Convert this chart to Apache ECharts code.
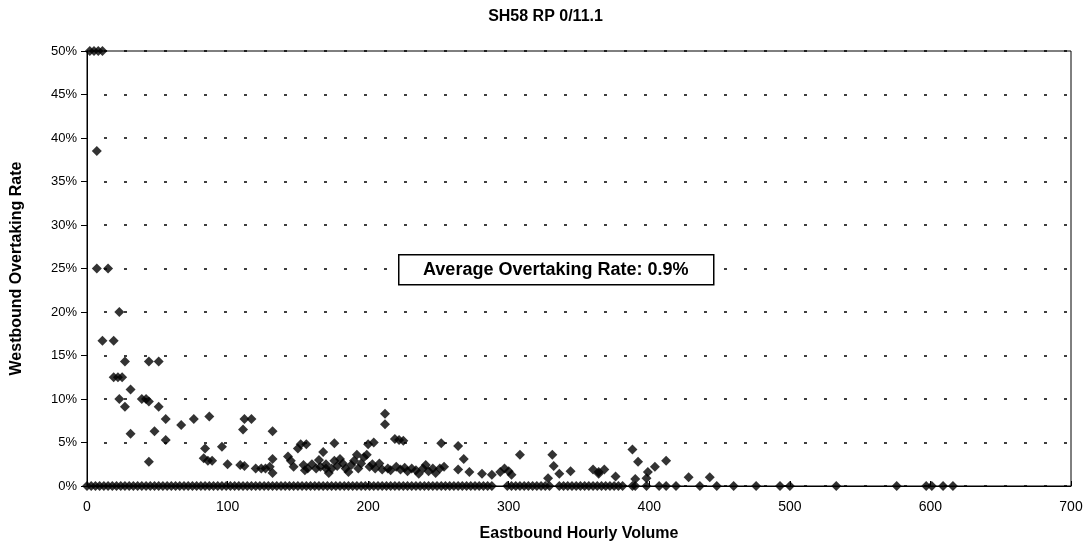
<!DOCTYPE html>
<html>
<head>
<meta charset="utf-8">
<script src="https://cdn.jsdelivr.net/npm/echarts@6/dist/echarts.min.js"></script>
<style>
  html, body { margin: 0; padding: 0; background: #fff; }
  #chart { width: 1091px; height: 548px; }
</style>
</head>
<body>
<div id="chart"></div>
<script>
// eastbound hourly volume / westbound overtaking rate (%) for the non-zero points
const volume = [
  2, 5, 8, 11, 7, 7, 15, 23, 11, 19, 27, 44, 51, 19, 22, 25, 31,
  23, 27, 39, 42, 44, 51, 56, 31, 48, 56, 44, 67, 76, 87, 84, 83, 86, 89,
  96, 100, 109, 112, 112, 117, 111, 120, 124, 127, 132, 132, 132, 130,
  143, 145, 147, 152, 156, 150, 154, 157, 155, 168, 170, 172,
  212, 212, 219, 222, 225, 176, 200, 204, 199, 192, 252, 264, 268, 308,
  160, 163, 165, 166, 170, 174, 176, 178, 180, 182, 184, 186, 188, 190,
  193, 195, 197, 201, 203, 205, 208, 210, 214, 216, 220, 223, 226, 228,
  231, 234, 236, 239, 241, 243, 246, 248, 251, 254,
  264, 272, 281, 288, 294, 297, 300, 302, 328,
  331, 332, 336, 344, 360, 364, 368, 364, 376, 388, 392, 390, 399, 398,
  404, 412, 428, 443
]
const rate = [
  50, 50, 50, 50, 38.5, 25, 25, 20, 16.7, 16.7, 14.3, 14.3, 14.3, 12.5, 12.5, 12.5, 11.1,
  10, 9.1, 10, 10, 9.7, 9.1, 7.7, 6, 6.3, 5.3, 2.8, 7, 7.7, 8, 4.3, 3.2, 2.9, 2.9,
  4.5, 2.5, 2.4, 2.3, 7.7, 7.7, 6.5, 2, 2, 2, 1.5, 6.3, 3.1, 2.2,
  3.4, 2.9, 2.2, 4.8, 4.8, 4.3, 2.4, 2, 1.8, 3.9, 2, 1.5,
  8.3, 7.1, 5.4, 5.3, 5.2, 4.9, 4.8, 5, 3.6, 3.6, 4.9, 4.6, 3.1, 3.6,
  2.5, 2, 3, 2.2, 2.5, 2, 2.9, 2.3, 3.1, 2.6, 2, 1.6, 2.4, 2.9,
  2, 2.6, 3.3, 2.2, 2.5, 2, 2.6, 1.9, 2, 1.8, 2.2, 1.9, 2.1, 1.7,
  2, 1.8, 1.4, 2, 2.4, 1.7, 2, 1.5, 2, 2.2,
  1.9, 1.6, 1.4, 1.3, 1.6, 2, 1.7, 1.3, 0.9,
  3.6, 2.3, 1.4, 1.7, 1.9, 1.6, 1.9, 1.4, 1.1, 4.2, 2.8, 0.8, 1.6, 0.9,
  2.2, 2.9, 1, 1
]
// hours with no overtaking (rate 0%)
const zeroVolume = [
  0, 3, 6, 9, 12, 15, 18, 21, 24, 27, 30, 33, 36, 39, 42, 45, 48, 51, 54, 57,
  60, 63, 66, 69, 72, 75, 78, 81, 84, 87, 90, 93, 96, 99, 102, 105, 108, 111, 114, 117,
  120, 123, 126, 129, 132, 135, 138, 141, 144, 147, 150, 153, 156, 159, 162, 165, 168, 171, 174, 177,
  180, 183, 186, 189, 192, 195, 198, 201, 204, 207, 210, 213, 216, 219, 222, 225, 228, 231, 234, 237,
  240, 243, 246, 249, 252, 255, 258, 261, 264, 267, 270, 273, 276, 279, 282, 285, 288,
  299, 302, 305, 308, 311, 314, 317, 320, 323, 326, 329,
  336, 339, 342, 345, 348, 351, 354, 357, 360, 363, 366, 369, 372, 375, 378, 381,
  388, 390, 398, 407, 412, 419, 436, 448, 460, 476, 493, 500, 533, 576, 597, 601, 609, 616
]
const averageRate = 0.9

const points = volume.map((v, i) => [v, rate[i]])
zeroVolume.forEach(v => points.push([v, 0]))

const font = 'Liberation Sans, Arial, sans-serif'
const myChart = echarts.init(document.getElementById('chart'))
const option = {
  animation: false,
  backgroundColor: '#fff',
  title: {
    text: 'SH58 RP 0/11.1',
    left: 'center',
    top: 4,
    textStyle: { fontFamily: font, fontSize: 16, fontWeight: 'bold', color: '#000' }
  },
  grid: {
    left: 87,
    right: 20,
    top: 51,
    bottom: 62,
    show: true,
    borderColor: '#000',
    borderWidth: 1
  },
  xAxis: {
    type: 'value',
    min: 0,
    max: 700,
    interval: 100,
    name: 'Eastbound Hourly Volume',
    nameLocation: 'middle',
    nameGap: 40,
    nameTextStyle: { fontFamily: font, fontSize: 16, fontWeight: 'bold', color: '#000' },
    axisLine: { show: true, lineStyle: { color: '#000', width: 1 } },
    axisTick: { show: true, inside: true, length: 5, lineStyle: { color: '#000' } },
    axisLabel: { fontFamily: font, fontSize: 14, color: '#000', margin: 14 },
    splitLine: { show: false }
  },
  yAxis: {
    type: 'value',
    min: 0,
    max: 50,
    interval: 5,
    name: 'Westbound Overtaking Rate',
    nameLocation: 'middle',
    nameGap: 62,
    nameTextStyle: { fontFamily: font, fontSize: 16, fontWeight: 'bold', color: '#000' },
    axisLine: { show: true, lineStyle: { color: '#000', width: 1 } },
    axisTick: { show: true, length: 6, lineStyle: { color: '#000' } },
    axisLabel: { fontFamily: font, fontSize: 13, color: '#000', formatter: '{value}%', margin: 10 },
    splitLine: { show: true, lineStyle: { color: '#000', width: 1.5, type: [3, 17], dashOffset: -17 } }
  },
  graphic: [
    {
      type: 'group',
      left: 398,
      top: 254,
      z: 100,
      children: [
        {
          type: 'rect',
          z: 100,
          shape: { x: 0, y: 0, width: 315, height: 30 },
          style: { fill: '#fff', stroke: '#000', lineWidth: 1.5 }
        },
        {
          type: 'text',
          z: 101,
          x: 157,
          y: 15,
          style: {
            text: 'Average Overtaking Rate: ' + averageRate + '%',
            font: 'bold 18px ' + font,
            fill: '#000',
            align: 'center',
            verticalAlign: 'middle'
          }
        }
      ]
    }
  ],
  series: [
    {
      type: 'scatter',
      data: points,
      symbol: 'diamond',
      symbolSize: 10,
      itemStyle: { color: '#000' },
      clip: false
    }
  ]
}
myChart.setOption(option)
</script>
</body>
</html>
